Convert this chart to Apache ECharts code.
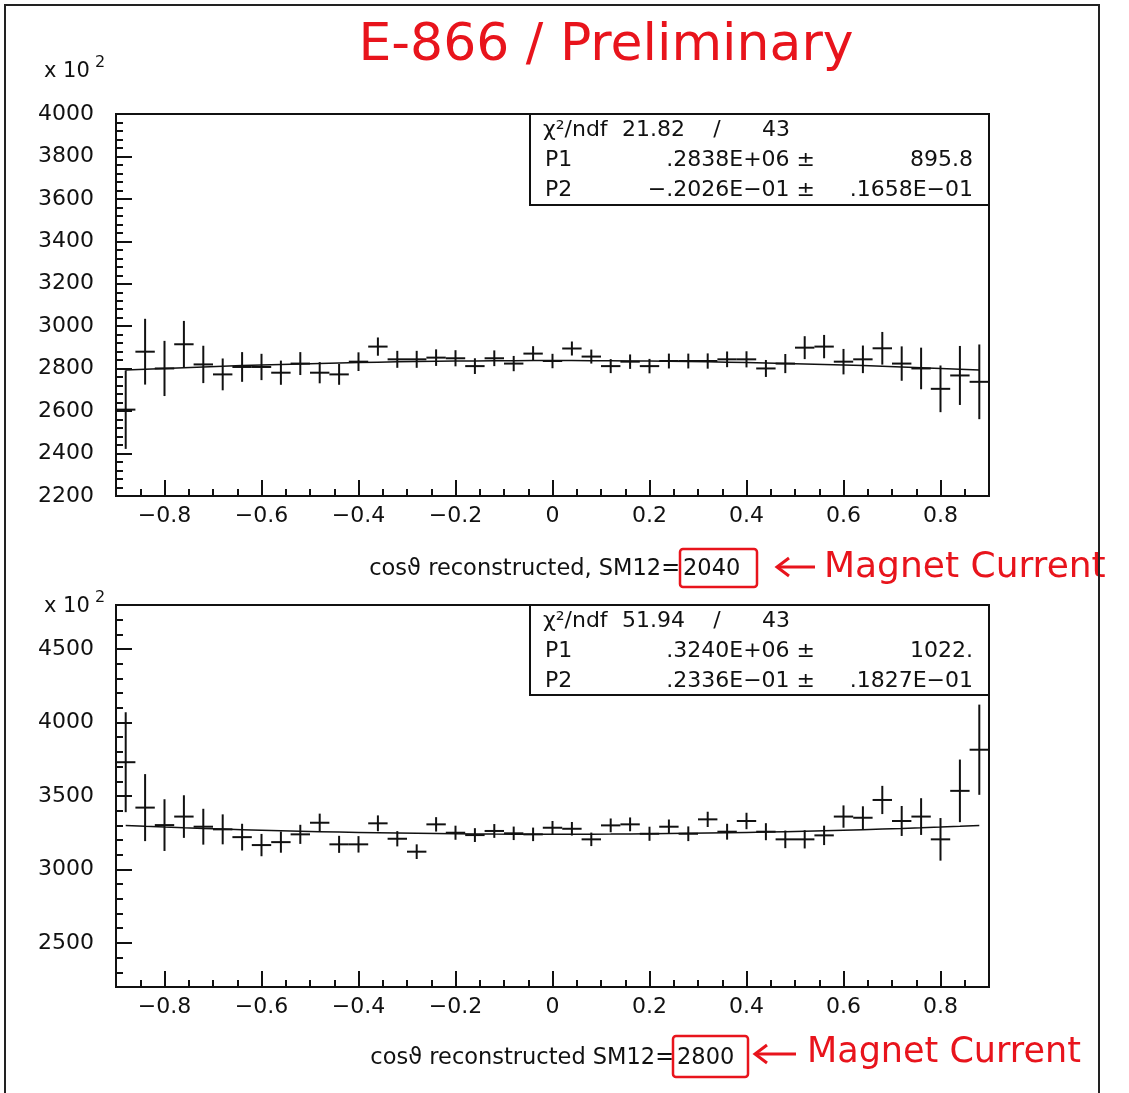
<!DOCTYPE html>
<html><head><meta charset="utf-8">
<script src="https://cdn.jsdelivr.net/npm/echarts@6/dist/echarts.min.js"></script>
<style>html,body{margin:0;padding:0;background:#fff}#c{width:1129px;height:1093px}</style>
</head><body><div id="c"></div>
<script>
// ---- data (y values in units of x10^2) ----
const binCenters = [-0.88,-0.84,-0.80,-0.76,-0.72,-0.68,-0.64,-0.60,-0.56,-0.52,-0.48,-0.44,-0.40,-0.36,-0.32,-0.28,-0.24,-0.20,-0.16,-0.12,-0.08,-0.04,0.00,
  0.04,0.08,0.12,0.16,0.20,0.24,0.28,0.32,0.36,0.40,0.44,0.48,0.52,0.56,0.60,0.64,0.68,0.72,0.76,0.80,0.84,0.88];
const binWidth = 0.04;
const topValues = [2607,2880,2801,2915,2820,2773,2808,2808,2781,2824,2781,2773,2833,2904,2844,2844,2852,2849,2812,2849,2824,2871,2836,
  2895,2857,2812,2833,2812,2836,2836,2836,2844,2844,2801,2824,2899,2904,2833,2844,2896,2824,2801,2705,2768,2738];
const topErrors = [185,155,130,110,88,75,70,62,57,54,50,49,44,43,40,40,39,38,37,37,36,35,34,
  33,33,33,34,34,35,35,36,37,38,40,45,54,55,60,65,77,81,98,110,139,176];
const botValues = [3730,3421,3302,3360,3291,3273,3220,3166,3186,3239,3318,3171,3171,3314,3209,3121,3307,3250,3234,3262,3246,3239,3284,
  3277,3205,3300,3307,3243,3291,3243,3341,3257,3330,3257,3205,3205,3232,3360,3352,3473,3330,3360,3205,3535,3815];
const botErrors = [340,228,176,145,122,102,91,76,72,65,62,58,56,54,52,50,49,48,47,47,46,46,46,
  46,46,47,47,48,49,50,52,54,56,58,60,62,66,76,78,96,102,125,145,213,307];
// fit parameters as printed in the stat boxes (P1 in x10^2 units, P2)
const topFitParams = [2838, -0.02026];
const botFitParams = [3240, 0.02336];
// tick labels
const xMajorTicks = [-0.8,-0.6,-0.4,-0.2,0,0.2,0.4,0.6,0.8];
const botYMajorTicks = [2500,3000,3500,4000,4500];
// stat box text
const topStats = {chi:'21.82', ndf:'43', p1:'.2838E+06 \u00b1', p1e:'895.8', p2:'\u2212.2026E\u221201 \u00b1', p2e:'.1658E\u221201'};
const botStats = {chi:'51.94', ndf:'43', p1:'.3240E+06 \u00b1', p1e:'1022.', p2:'.2336E\u221201 \u00b1', p2e:'.1827E\u221201'};

const FONT = 'DejaVu Sans';
const INK = '#111';
const RED = '#e8141c';

const chart = echarts.init(document.getElementById('c'));

function fitData(p) { return binCenters.map(x => [x, p[0] * (1 + p[1] * x * x)]); }
function fmtX(v) { if (v === 0) return '0'; return (v < 0 ? '\u2212' : '') + Math.abs(v).toFixed(1); }
function fmtY(v) { return String(Math.round(v)); }

function crossSeries(xi, yi, values, errors) {
  return {
    type: 'custom', xAxisIndex: xi, yAxisIndex: yi, clip: true, z: 3,
    data: binCenters.map((c, i) => [c, values[i], errors[i]]),
    renderItem: function (params, api) {
      const x = api.value(0), y = api.value(1), e = api.value(2);
      const l = api.coord([x - binWidth / 2, y]), r = api.coord([x + binWidth / 2, y]);
      const t = api.coord([x, y + e]), b = api.coord([x, y - e]);
      const style = {stroke: INK, lineWidth: 2};
      return {type: 'group', children: [
        {type: 'line', shape: {x1: l[0], y1: l[1], x2: r[0], y2: r[1]}, style: style},
        {type: 'line', shape: {x1: t[0], y1: t[1], x2: b[0], y2: b[1]}, style: style}
      ]};
    }
  };
}
function fitSeries(xi, yi, p) {
  return {type: 'line', xAxisIndex: xi, yAxisIndex: yi, data: fitData(p), symbol: 'none',
    lineStyle: {color: INK, width: 1.5}, z: 2};
}
function xMajor(g) {
  return {type: 'value', gridIndex: g, position: 'bottom', min: -0.9, max: 0.9,
    axisLine: {show: true, onZero: false, lineStyle: {color: INK, width: 2}},
    axisTick: {show: true, inside: true, length: 16, customValues: xMajorTicks, lineStyle: {color: INK, width: 2}},
    axisLabel: {show: true, customValues: xMajorTicks, formatter: fmtX, fontFamily: FONT, fontSize: 22, color: INK, margin: 9},
    splitLine: {show: false}};
}
function xMinor(g) {
  return {type: 'value', gridIndex: g, position: 'bottom', min: -0.9, max: 0.9, interval: 0.05,
    axisLine: {show: false, onZero: false},
    axisTick: {show: true, inside: true, length: 7, lineStyle: {color: INK, width: 2}},
    axisLabel: {show: false}, splitLine: {show: false}};
}
function yAxisDef(g, min, max, opts) {
  return Object.assign({type: 'value', gridIndex: g, position: 'left', min: min, max: max,
    axisLine: {show: true, onZero: false, lineStyle: {color: INK, width: 2}},
    splitLine: {show: false}}, opts);
}

function statTexts(top, s) {
  const rows = [top + 16, top + 46, top + 76];
  const base = {fontFamily: FONT, fontSize: 22, fill: INK, verticalAlign: 'middle'};
  const t = (x, y, text, align) => ({type: 'text', x: x, y: y, z: 20, style: Object.assign({}, base, {text: text, align: align || 'left'})});
  return [
    t(543, rows[0], '\u03c7\u00b2/ndf'), t(622, rows[0], s.chi), t(717, rows[0], '/', 'center'), t(762, rows[0], s.ndf),
    t(545, rows[1], 'P1'), t(815, rows[1], s.p1, 'right'), t(973, rows[1], s.p1e, 'right'),
    t(545, rows[2], 'P2'), t(815, rows[2], s.p2, 'right'), t(973, rows[2], s.p2e, 'right')
  ];
}

const graphics = [
  // outer frame
  {type: 'polyline', z: 30, shape: {points: [[5, 1100], [5, 5], [1099, 5], [1099, 1100]]}, style: {stroke: '#222', lineWidth: 2, fill: null}},
  // handwritten title
  {type: 'text', x: 606, y: 46, z: 20, style: {text: 'E-866 / Preliminary', fontFamily: FONT, fontSize: 52, fill: RED, align: 'center', verticalAlign: 'middle'}},
  // x 10^2 labels
  {type: 'text', x: 44, y: 72, z: 20, style: {text: 'x 10', fontFamily: FONT, fontSize: 21, fill: INK, verticalAlign: 'middle'}},
  {type: 'text', x: 95, y: 63, z: 20, style: {text: '2', fontFamily: FONT, fontSize: 16, fill: INK, verticalAlign: 'middle'}},
  {type: 'text', x: 44, y: 607, z: 20, style: {text: 'x 10', fontFamily: FONT, fontSize: 21, fill: INK, verticalAlign: 'middle'}},
  {type: 'text', x: 95, y: 598, z: 20, style: {text: '2', fontFamily: FONT, fontSize: 16, fill: INK, verticalAlign: 'middle'}},
  // stat boxes
  {type: 'rect', z: 19, shape: {x: 530, y: 114, width: 459, height: 91}, style: {fill: '#fff', stroke: INK, lineWidth: 2}},
  {type: 'rect', z: 19, shape: {x: 530, y: 605, width: 459, height: 90}, style: {fill: '#fff', stroke: INK, lineWidth: 2}},
  // x titles
  {type: 'text', x: 680, y: 569, z: 20, style: {text: 'cos\u03d1 reconstructed, SM12=', fontFamily: FONT, fontSize: 22.5, fill: INK, align: 'right', verticalAlign: 'middle'}},
  {type: 'text', x: 683, y: 569, z: 20, style: {text: '2040', fontFamily: FONT, fontSize: 22.5, fill: INK, align: 'left', verticalAlign: 'middle'}},
  {type: 'text', x: 674, y: 1058, z: 20, style: {text: 'cos\u03d1 reconstructed SM12=', fontFamily: FONT, fontSize: 22.5, fill: INK, align: 'right', verticalAlign: 'middle'}},
  {type: 'text', x: 677, y: 1058, z: 20, style: {text: '2800', fontFamily: FONT, fontSize: 22.5, fill: INK, align: 'left', verticalAlign: 'middle'}},
  // red boxes
  {type: 'rect', z: 21, shape: {x: 680, y: 549, width: 77, height: 38, r: 3}, style: {fill: null, stroke: RED, lineWidth: 2.5}},
  {type: 'rect', z: 21, shape: {x: 673, y: 1036, width: 75, height: 41, r: 3}, style: {fill: null, stroke: RED, lineWidth: 2.5}},
  // arrows
  {type: 'polyline', z: 21, shape: {points: [[815, 567], [777, 567]]}, style: {stroke: RED, lineWidth: 3, fill: null}},
  {type: 'polyline', z: 21, shape: {points: [[789, 558], [777, 567], [789, 576]]}, style: {stroke: RED, lineWidth: 3, fill: null}},
  {type: 'polyline', z: 21, shape: {points: [[796, 1054], [755, 1054]]}, style: {stroke: RED, lineWidth: 3, fill: null}},
  {type: 'polyline', z: 21, shape: {points: [[767, 1045], [755, 1054], [767, 1063]]}, style: {stroke: RED, lineWidth: 3, fill: null}},
  // Magnet Current
  {type: 'text', x: 824, y: 568, z: 21, style: {text: 'Magnet Current', fontFamily: FONT, fontSize: 36, fill: RED, verticalAlign: 'middle'}},
  {type: 'text', x: 807, y: 1053, z: 21, style: {text: 'Magnet Current', fontFamily: FONT, fontSize: 35, fill: RED, verticalAlign: 'middle'}}
].concat(statTexts(114, topStats), statTexts(605, botStats));

chart.setOption({
  animation: false,
  backgroundColor: '#fff',
  grid: [
    {left: 116, top: 114, width: 873, height: 382, show: true, borderColor: INK, borderWidth: 2, backgroundColor: 'transparent'},
    {left: 116, top: 605, width: 873, height: 382, show: true, borderColor: INK, borderWidth: 2, backgroundColor: 'transparent'}
  ],
  xAxis: [xMajor(0), xMinor(0), xMajor(1), xMinor(1)],
  yAxis: [
    yAxisDef(0, 2200, 4000, {interval: 200,
      axisTick: {show: true, inside: true, length: 16, lineStyle: {color: INK, width: 2}},
      axisLabel: {show: true, formatter: fmtY, fontFamily: FONT, fontSize: 22, color: INK, margin: 22}}),
    yAxisDef(0, 2200, 4000, {interval: 40, axisLine: {show: false, onZero: false},
      axisTick: {show: true, inside: true, length: 7, lineStyle: {color: INK, width: 2}}, axisLabel: {show: false}}),
    yAxisDef(1, 2200, 4800, {
      axisTick: {show: true, inside: true, length: 16, customValues: botYMajorTicks, lineStyle: {color: INK, width: 2}},
      axisLabel: {show: true, customValues: botYMajorTicks, formatter: fmtY, fontFamily: FONT, fontSize: 22, color: INK, margin: 22}}),
    yAxisDef(1, 2200, 4800, {interval: 100, axisLine: {show: false, onZero: false},
      axisTick: {show: true, inside: true, length: 7, lineStyle: {color: INK, width: 2}}, axisLabel: {show: false}})
  ],
  series: [
    fitSeries(0, 0, topFitParams), crossSeries(0, 0, topValues, topErrors),
    fitSeries(2, 2, botFitParams), crossSeries(2, 2, botValues, botErrors)
  ],
  graphic: graphics
});
</script></body></html>
